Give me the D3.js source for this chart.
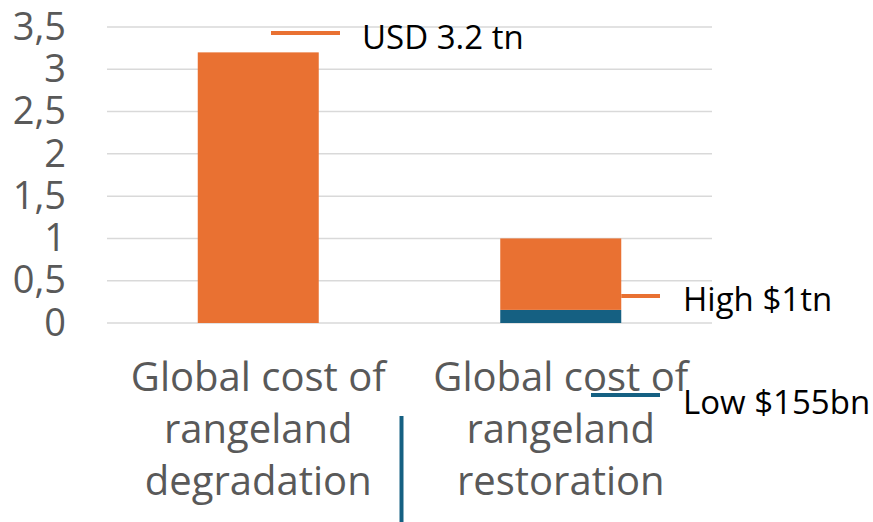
<!DOCTYPE html>
<html>
<head>
<meta charset="utf-8">
<script src="https://cdn.jsdelivr.net/npm/d3@7"></script>
<style>
  body { margin: 0; background: #fff; }
  text { font-family: "Open Sans", sans-serif; }
</style>
</head>
<body>
<div id="chart"></div>
<script>
// data (USD trillion)
var categories = [
    ["Global cost of", "rangeland", "degradation"],
    ["Global cost of", "rangeland", "restoration"]
];
var lowValues = [3.2, 0.155];
var highValues = [0, 0.845]; // stacked on top of low -> 1 tn
var yTicks = [0, 0.5, 1, 1.5, 2, 2.5, 3, 3.5];

function init()
{
    var w = 873;
    var h = 522;
    var left = 107, right = 712, top = 27, bottom = 323;

    var svg = d3.select("#chart")
        .append("svg")
        .attr("width", w)
        .attr("height", h);

    var xScale = d3.scaleBand()
        .domain(d3.range(categories.length))
        .range([left, right])
        .paddingInner(0.6)
        .paddingOuter(0.3);

    var yScale = d3.scaleLinear()
        .domain([0, 3.5])
        .range([bottom, top]);

    // gridlines
    svg.append("g")
        .selectAll("line")
        .data(yTicks)
        .enter()
        .append("line")
        .attr("x1", left)
        .attr("x2", right)
        .attr("y1", function(d) { return yScale(d); })
        .attr("y2", function(d) { return yScale(d); })
        .attr("stroke", "#d9d9d9")
        .attr("stroke-width", 1.5);

    // y axis labels
    var yAxis = d3.axisLeft(yScale)
        .tickValues(yTicks)
        .tickSize(0)
        .tickPadding(0)
        .tickFormat(function(d) { return String(d).replace(".", ","); });

    var yg = svg.append("g")
        .attr("transform", "translate(66,0)")
        .call(yAxis);
    yg.select(".domain").remove();
    yg.selectAll("text")
        .attr("font-family", "Open Sans")
        .attr("font-size", 38)
        .attr("fill", "#595959");

    // bars: low segment (first bar uses it for total)
    var colors = ["#e97132", "#156082"];

    svg.append("g")
        .selectAll("rect")
        .data(lowValues)
        .enter()
        .append("rect")
        .attr("x", function(d, i) { return xScale(i); })
        .attr("width", xScale.bandwidth())
        .attr("y", function(d) { return yScale(d); })
        .attr("height", function(d) { return bottom - yScale(d); })
        .attr("fill", function(d, i) { return i === 0 ? colors[0] : colors[1]; });

    svg.append("g")
        .selectAll("rect")
        .data(highValues)
        .enter()
        .append("rect")
        .attr("x", function(d, i) { return xScale(i); })
        .attr("width", xScale.bandwidth())
        .attr("y", function(d, i) { return yScale(lowValues[i] + d); })
        .attr("height", function(d, i) { return yScale(lowValues[i]) - yScale(lowValues[i] + d); })
        .attr("fill", colors[0]);

    // category labels
    svg.append("g")
        .selectAll("text")
        .data(categories)
        .enter()
        .append("text")
        .attr("text-anchor", "middle")
        .attr("font-size", 40)
        .attr("fill", "#595959")
        .attr("x", function(d, i) { return xScale(i) + xScale.bandwidth() / 2; })
        .attr("y", 391)
        .selectAll("tspan")
        .data(function(d) { return d; })
        .enter()
        .append("tspan")
        .attr("x", function() { return d3.select(this.parentNode).attr("x"); })
        .attr("dy", function(d, i) { return i === 0 ? 0 : 52; })
        .text(function(d) { return d; });

    // annotations
    var ann = svg.append("g");
    ann.append("line")
        .attr("x1", 271).attr("x2", 340)
        .attr("y1", 33).attr("y2", 33)
        .attr("stroke", colors[0]).attr("stroke-width", 4);
    ann.append("text")
        .attr("x", 362).attr("y", 49)
        .attr("font-size", 33)
        .attr("fill", "#000")
        .text("USD 3.2 tn");

    ann.append("line")
        .attr("x1", xScale(1) + xScale.bandwidth()).attr("x2", 660)
        .attr("y1", 296).attr("y2", 296)
        .attr("stroke", colors[0]).attr("stroke-width", 4);
    ann.append("text")
        .attr("x", 683).attr("y", 311)
        .attr("font-size", 33)
        .attr("fill", "#000")
        .text("High $1tn");

    ann.append("line")
        .attr("x1", 591).attr("x2", 660)
        .attr("y1", 395).attr("y2", 395)
        .attr("stroke", colors[1]).attr("stroke-width", 4);
    ann.append("text")
        .attr("x", 683).attr("y", 414)
        .attr("font-size", 33)
        .attr("fill", "#000")
        .text("Low $155bn");

    ann.append("line")
        .attr("x1", 401.5).attr("x2", 401.5)
        .attr("y1", 416).attr("y2", 522)
        .attr("stroke", colors[1]).attr("stroke-width", 4);
}

window.onload = init;
</script>
</body>
</html>
